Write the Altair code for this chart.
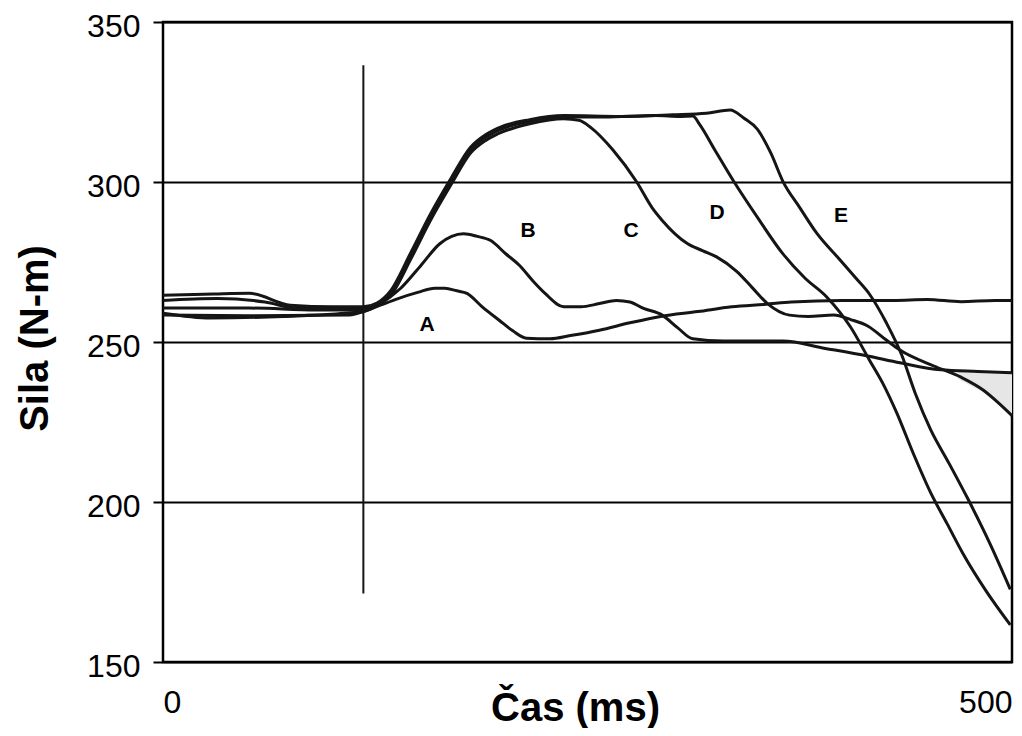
import altair as alt
import pandas as pd

# ---- data (time in ms, force in N-m) ----
A_T = [0, 50, 110, 118, 128, 138, 150, 160, 166, 173, 179, 188, 198, 206, 214, 228, 240, 257, 275, 293, 315, 335, 355, 370, 400, 430, 450, 470, 490, 500]
A_F = [258.4, 258.2, 258.4, 259.5, 261.5, 263.5, 265.5, 266.8, 266.8, 266, 265.2, 261, 256.8, 253.5, 251.2, 251, 252, 253.7, 256, 258, 259.5, 261, 261.8, 262.5, 263, 263, 263.3, 262.6, 263, 263]

B_T = [0, 28, 71, 118, 128, 140, 152, 163, 170, 177, 185, 193, 202, 210, 218, 225, 236, 246, 257, 267, 275, 283, 294, 303, 312, 330, 365, 390, 415, 434, 458, 480, 500]
B_F = [259, 257.5, 258, 259.5, 262, 266.8, 274, 280.7, 283, 283.8, 283, 281.7, 277.5, 273.9, 269, 265.2, 261, 261, 262, 263, 262.5, 260.5, 258.4, 254.5, 251, 250.3, 250.3, 248, 245.6, 243.5, 241.3, 240.8, 240.4]

C_T = [0, 51, 90, 118, 126, 134, 146, 157, 170, 181, 190, 197, 216, 236, 245, 252, 265, 279, 288, 294, 309, 318, 326, 338, 347, 356, 369, 380, 395, 405, 415, 426, 434, 454, 470, 483, 492, 500]
C_F = [260.6, 260.6, 260, 260, 261.5, 264.5, 276, 287.5, 299.5, 309, 313, 315, 318.2, 319.8, 319.3, 317, 310, 300, 292, 288, 280.7, 278.5, 276.6, 272, 267, 262, 258.4, 258, 258.4, 257, 255, 250.6, 247.5, 242.5, 239, 235, 231, 227]

D_T = [0, 32, 60, 80, 118, 126, 134, 146, 157, 170, 181, 190, 197, 216, 236, 260, 290, 305, 312, 316, 325, 336, 350, 365, 378, 391, 405, 416, 424, 432, 442, 452, 462, 471, 485, 499]
D_F = [263, 263.6, 262.5, 260.5, 260.5, 261.8, 265.3, 277, 288.5, 300.5, 310, 314, 316, 319, 320.4, 320.3, 320.8, 320.5, 320.6, 318, 310, 300.3, 289, 277.6, 270, 264, 254.6, 244.4, 237, 228, 215, 203, 193, 184, 172, 161.6]

E_T = [0, 30, 51, 75, 100, 118, 126, 134, 146, 157, 170, 181, 190, 197, 216, 236, 270, 300, 320, 334, 342, 350, 358, 365, 375, 385, 399, 408, 416, 426, 435, 443, 452, 463, 474, 487, 499]
E_F = [264.6, 265, 265.2, 261.5, 261, 261, 262.2, 266, 278, 289.5, 301.5, 310.8, 314.8, 316.8, 319.5, 320.8, 320.5, 321, 321.5, 322.5, 320, 316.5, 309, 300.3, 292, 284, 275.5, 270, 265, 256, 246, 234, 222.7, 212, 201, 187, 172.7]

LABELS = ["A", "B", "C", "D", "E"]
LABEL_T = [155.5, 215, 275.6, 326.3, 399.3]
LABEL_F = [255.3, 284.8, 284.8, 290.4, 289.4]

MARK_T = [118]
MARK_F_LOW = [171.4]
MARK_F_HIGH = [336.5]

SHADE_T = [468, 484, 500]
SHADE_TOP = [241.1, 240.8, 240.4]
SHADE_BOTTOM = [238.5, 234, 227]

Y_TICKS = [150, 200, 250, 300, 350]
X_TICKS = [0, 500]

# ---- tables ----
rows = []
for name, ts, fs in zip(LABELS, [A_T, B_T, C_T, D_T, E_T], [A_F, B_F, C_F, D_F, E_F]):
    for t, f in zip(ts, fs):
        rows.append({"curve": name, "t": t, "f": f})
lines_df = pd.DataFrame(rows)
labels_df = pd.DataFrame({"label": LABELS, "t": LABEL_T, "f": LABEL_F})
mark_df = pd.DataFrame({"t": MARK_T, "lo": MARK_F_LOW, "hi": MARK_F_HIGH})
shade_df = pd.DataFrame({"t": SHADE_T, "top": SHADE_TOP, "bot": SHADE_BOTTOM})

FONT = "Liberation Sans"

xscale = alt.Scale(domain=[0, 500], nice=False, zero=False)
yscale = alt.Scale(domain=[150, 350], nice=False, zero=False)

xaxis = alt.Axis(
    values=X_TICKS, grid=False, ticks=False, tickSize=0, domain=False,
    labelFlush=True, labelFontSize=32, labelFont=FONT, labelColor="black",
    labelPadding=25,
    title="Čas (ms)", titleFont=FONT, titleFontSize=40, titleFontWeight="bold",
    titleColor="black", titleBaseline="alphabetic", titleY=58, titleX=412,
)
yaxis = alt.Axis(
    values=Y_TICKS, grid=True, gridColor="black", gridWidth=2.2, gridOpacity=1,
    ticks=True, tickSize=10, tickColor="black", tickWidth=2, domain=False,
    labelFontSize=32, labelFont=FONT, labelColor="black", labelPadding=13,
    labelOffset=4,
    title="Sila (N-m)", titleFont=FONT, titleFontSize=40, titleFontWeight="bold",
    titleColor="black", titleAngle=270, titleBaseline="alphabetic",
    titleAlign="center", titleX=-116, titleY=316,
)

shade = alt.Chart(shade_df).mark_area(color="#e6e6e6", opacity=1).encode(
    x=alt.X("t:Q", scale=xscale, axis=xaxis),
    y=alt.Y("top:Q", scale=yscale, axis=yaxis),
    y2="bot:Q",
)

lines = alt.Chart(lines_df).mark_line(
    color="#151515", strokeWidth=3, interpolate="monotone"
).encode(
    x=alt.X("t:Q", scale=xscale, axis=xaxis),
    y=alt.Y("f:Q", scale=yscale, axis=yaxis),
    detail="curve:N",
)

marker = alt.Chart(mark_df).mark_rule(color="#151515", strokeWidth=2).encode(
    x="t:Q", y="lo:Q", y2="hi:Q"
)

texts = alt.Chart(labels_df).mark_text(
    font=FONT, fontSize=21, fontWeight="bold", color="black"
).encode(x="t:Q", y="f:Q", text="label:N")

chart = alt.layer(shade, lines, marker, texts).properties(
    width=849,
    height=640,
    background="white",
    autosize=alt.AutoSizeParams(type="none"),
    padding={"left": 155, "top": 14, "right": 2, "bottom": 66},
).configure_view(
    stroke="black", strokeWidth=2.5, fill="white"
)

chart.save("out.html", embed_options={"renderer": "svg", "actions": False})
